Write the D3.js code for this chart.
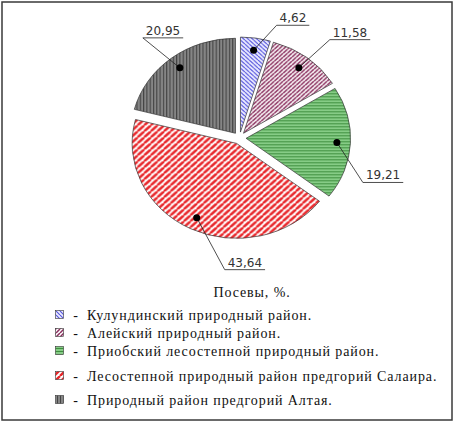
<!DOCTYPE html>
<html>
<head>
<meta charset="utf-8">
<script src="https://cdn.jsdelivr.net/npm/d3@7"></script>
<style>
  body { margin: 0; background: #fff; }
  svg { display: block; }
</style>
</head>
<body>
<svg id="grafico"></svg>
<script>
// dados do gráfico
const categorias = [
  'Кулундинский природный район.',
  'Алейский природный район.',
  'Приобский лесостепной природный район.',
  'Лесостепной природный район предгорий Салаира.',
  'Природный район предгорий Алтая.'
];
const valores = [4.62, 11.58, 19.21, 43.64, 20.95];
const rotulos = ['4,62', '11,58', '19,21', '43,64', '20,95'];
const tituloLegenda = 'Посевы, %.';

// layout
const largura = 458, altura = 428;
const cx = 239.5, cy = 138, raio = 95, escalaX = 1.1, explosao = 6;
const deslocRotulo = [[23, -25], [31, -28], [26, 40], [28, 52], [-37, -30]];
const linhasLegenda = [315, 333, 351, 376, 400];
const padroes = ['p-azul', 'p-rosa', 'p-verde', 'p-vermelho', 'p-cinza'];

const svg = d3.select('#grafico').attr('width', largura).attr('height', altura);

// padrões de hachura
const defs = svg.append('defs');
function padrao(id, tam, fundo, desenho) {
  const p = defs.append('pattern').attr('id', id)
    .attr('patternUnits', 'userSpaceOnUse')
    .attr('width', tam).attr('height', tam);
  p.append('rect').attr('width', tam).attr('height', tam).attr('fill', fundo);
  desenho(p, tam);
}
// azul: diagonal descendente
padrao('p-azul', 4, '#ececff', (p, t) => {
  p.append('path').attr('d', `M0,0 L${t},${t} M${-t},0 L0,${t} M${t},0 L${2*t},${t}`)
    .attr('stroke', '#5555dd').attr('stroke-width', 1.1);
});
// rosa: diagonal ascendente
padrao('p-rosa', 4, '#fff', (p, t) => {
  p.append('path').attr('d', `M0,${t} L${t},0 M${-t},${t} L0,0 M${t},${t} L${2*t},0`)
    .attr('stroke', '#8a2f5e').attr('stroke-width', 1.5);
});
// verde: linhas horizontais
padrao('p-verde', 3, '#86cc86', (p, t) => {
  p.append('path').attr('d', `M0,0.5 L${t},0.5`)
    .attr('stroke', '#3f8f3f').attr('stroke-width', 1);
});
// vermelho: diagonal larga ascendente
padrao('p-vermelho', 6, '#fff', (p, t) => {
  p.append('path').attr('d', `M0,${t} L${t},0 M${-t},${t} L0,0 M${t},${t} L${2*t},0`)
    .attr('stroke', '#e8262a').attr('stroke-width', 2.4);
});
// cinza: linhas verticais
padrao('p-cinza', 3, '#858585', (p, t) => {
  p.append('path').attr('d', `M0.5,0 L0.5,${t}`)
    .attr('stroke', '#444').attr('stroke-width', 1);
});

// moldura
svg.append('rect')
  .attr('x', 2).attr('y', 2).attr('width', 450).attr('height', 418)
  .attr('fill', 'none').attr('stroke', '#3a3a3a').attr('stroke-width', 1.5);

// setores
const pie = d3.pie().sort(null).value(d => d);
const fatias = pie(valores);
const arco = d3.arc().innerRadius(0).outerRadius(raio);
const arcoPonto = d3.arc().innerRadius(raio * 0.87).outerRadius(raio * 0.87);

function offset(d) {
  const a = (d.startAngle + d.endAngle) / 2;
  return [Math.sin(a) * explosao, -Math.cos(a) * explosao];
}

const plotagem = svg.append('g')
  .attr('transform', `translate(${cx},${cy}) scale(${escalaX},1)`);

plotagem.selectAll('.fatia')
  .data(fatias)
  .enter()
  .append('path')
  .classed('fatia', true)
  .attr('transform', d => `translate(${offset(d)})`)
  .attr('d', arco)
  .attr('fill', (d, i) => `url(#${padroes[i]})`)
  .attr('stroke', '#333')
  .attr('stroke-width', 0.7)
  .attr('vector-effect', 'non-scaling-stroke');

// pontos, linhas de chamada e rótulos
const pontos = fatias.map(d => {
  const c = arcoPonto.centroid(d), o = offset(d);
  return [cx + (c[0] + o[0]) * escalaX, cy + c[1] + o[1]];
});

const rot = svg.append('g')
  .style('font-family', '"DejaVu Sans", Verdana, sans-serif')
  .style('font-size', '12px');

fatias.forEach((d, i) => {
  const [px, py] = pontos[i];
  const ax = px + deslocRotulo[i][0], ay = py + deslocRotulo[i][1];
  const t = rot.append('text')
    .attr('x', ax + 3).attr('y', ay - 3)
    .attr('fill', '#333')
    .text(rotulos[i]);
  const w = t.node().getComputedTextLength();
  rot.append('path')
    .attr('d', `M${px},${py} L${ax},${ay} L${ax + w + 6},${ay}`)
    .attr('fill', 'none').attr('stroke', '#222').attr('stroke-width', 0.8);
  rot.append('circle')
    .attr('cx', px).attr('cy', py).attr('r', 3.5).attr('fill', '#000');
});

// legenda
const leg = svg.append('g')
  .style('font-family', '"Liberation Serif", "Times New Roman", serif')
  .style('font-size', '14px')
  .style('letter-spacing', '0.9px')
  .attr('fill', '#111');

leg.append('text')
  .attr('x', 252).attr('y', 297)
  .attr('text-anchor', 'middle')
  .text(tituloLegenda);

const itens = leg.selectAll('.item')
  .data(categorias)
  .enter()
  .append('g')
  .classed('item', true)
  .attr('transform', (d, i) => `translate(0,${linhasLegenda[i]})`);

itens.append('rect')
  .attr('x', 55.5).attr('y', -4.5).attr('width', 8).attr('height', 8)
  .attr('fill', (d, i) => `url(#${padroes[i]})`)
  .attr('stroke', '#333').attr('stroke-width', 0.6);

itens.append('text')
  .attr('x', 76).attr('y', 4.5)
  .attr('text-anchor', 'middle')
  .text('-');

itens.append('text')
  .attr('x', 87).attr('y', 4.5)
  .text(d => d);
</script>
</body>
</html>
